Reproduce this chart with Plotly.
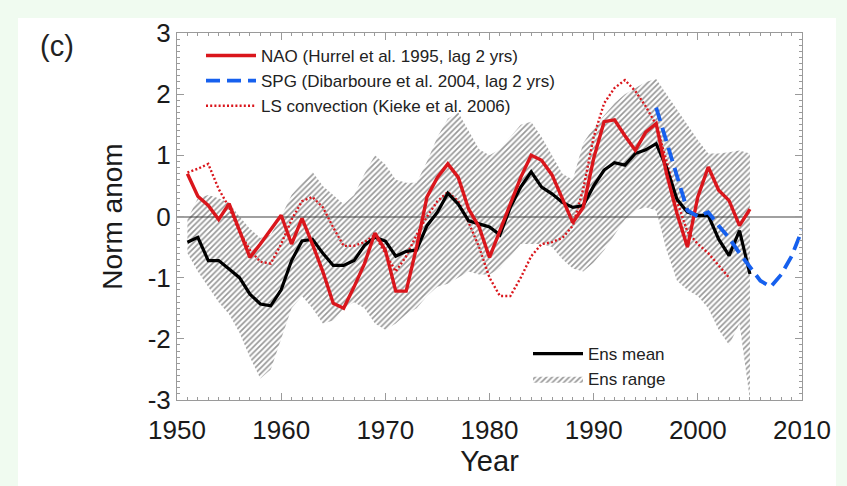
import plotly.graph_objects as go

# ---- data -------------------------------------------------------------
years = list(range(1951, 2006))

nao = [0.70, 0.33, 0.18, -0.05, 0.21, -0.25, -0.67, -0.45, -0.22, 0.02,
       -0.45, -0.03, -0.45, -0.90, -1.42, -1.50, -1.15, -0.77, -0.27, -0.55,
       -1.22, -1.22, -0.50, 0.32, 0.64, 0.86, 0.64, 0.12, -0.17, -0.67,
       -0.23, 0.21, 0.64, 1.00, 0.92, 0.68, 0.30, -0.10, 0.15, 0.95,
       1.55, 1.58, 1.32, 1.08, 1.38, 1.52, 0.70, 0.05, -0.50, 0.32,
       0.81, 0.43, 0.26, -0.15, 0.12]

ens_mean = [-0.42, -0.34, -0.72, -0.72, -0.86, -1.00, -1.27, -1.43, -1.46, -1.20,
            -0.72, -0.40, -0.37, -0.60, -0.80, -0.80, -0.72, -0.47, -0.34, -0.40,
            -0.65, -0.57, -0.55, -0.15, 0.07, 0.38, 0.20, -0.07, -0.12, -0.17,
            -0.30, 0.15, 0.48, 0.73, 0.48, 0.37, 0.23, 0.15, 0.18, 0.50,
            0.76, 0.88, 0.84, 1.03, 1.09, 1.19, 0.80, 0.28, 0.07, 0.02,
            0.02, -0.37, -0.64, -0.23, -0.94]

ens_upper = [-0.05, 0.30, 0.35, 0.30, 0.22, 0.00, -0.20, -0.35, -0.30, 0.00,
             0.35, 0.55, 0.73, 0.50, 0.35, 0.20, 0.35, 0.70, 1.00, 0.85,
             0.60, 0.55, 0.55, 0.90, 1.30, 1.60, 1.70, 1.40, 1.10, 1.00,
             1.10, 1.30, 1.50, 1.55, 1.30, 1.00, 0.70, 0.60, 1.20, 1.45,
             1.65, 1.85, 2.00, 2.10, 2.20, 2.25, 2.00, 1.77, 1.50, 1.25,
             1.03, 1.03, 1.05, 1.08, 1.03]

ens_lower = [-0.60, -0.90, -1.15, -1.40, -1.60, -1.90, -2.30, -2.65, -2.50, -2.00,
             -1.50, -1.30, -1.50, -1.75, -1.70, -1.50, -1.40, -1.50, -1.75, -1.85,
             -1.75, -1.60, -1.50, -1.30, -1.15, -1.10, -1.00, -0.90, -0.95, -0.95,
             -0.85, -0.65, -0.45, -0.45, -0.45, -0.50, -0.70, -0.85, -0.90, -0.75,
             -0.55, -0.30, -0.05, 0.10, 0.15, 0.10, -0.55, -1.05, -1.20, -1.30,
             -1.50, -1.85, -2.10, -1.75, -3.00]

ls_years = list(range(1951, 2004))
ls_conv = [0.72, 0.78, 0.86, 0.45, 0.15, -0.25, -0.55, -0.74, -0.77, -0.45,
           -0.05, 0.25, 0.32, 0.15, -0.18, -0.48, -0.48, -0.42, -0.30, -0.60,
           -0.90, -0.65, -0.30, 0.00, 0.25, 0.40, 0.25, -0.10, -0.50, -1.00,
           -1.30, -1.30, -1.00, -0.65, -0.45, -0.42, -0.35, -0.15, 0.45, 1.30,
           1.85, 2.10, 2.23, 2.05, 1.80, 1.50, 0.90, 0.25, -0.25, -0.45,
           -0.60, -0.80, -1.00]

spg_years = list(range(1996, 2011))
spg = [1.78, 1.22, 0.68, 0.10, 0.00, 0.07, -0.15, -0.35, -0.60, -0.82,
       -1.05, -1.15, -0.95, -0.65, -0.22]

x_ticks = [1950, 1960, 1970, 1980, 1990, 2000, 2010]
x_ticktext = ["1950", "1960", "1970", "1980", "1990", "2000", "2010"]
y_ticks = [-3, -2, -1, 0, 1, 2, 3]
y_ticktext = ["-3", "-2", "-1", "0", "1", "2", "3"]

# ---- styling ----------------------------------------------------------
FONT = "Liberation Sans"
RED = "rgb(218,22,28)"
BLUE = "rgb(22,96,238)"
FRAME = "#9a9a9a"

W, H = 847, 486
ML, MR, MT, MB = 177, 45, 33, 86
PW, PH = W - ML - MR, H - MT - MB


def px_to_paper_x(px):
    return (px - ML) / PW


def px_to_paper_y(py):
    return (H - MB - py) / PH


fig = go.Figure()

# ensemble range as a hatched polygon
fig.add_trace(go.Scatter(
    x=years + years[::-1],
    y=ens_upper + ens_lower[::-1],
    fill="toself",
    mode="lines",
    line=dict(width=0, color="rgba(0,0,0,0)"),
    fillcolor="rgba(255,255,255,0)",
    fillpattern=dict(shape="/", fgcolor="#303030", bgcolor="rgba(255,255,255,0)",
                     size=4, solidity=0.42),
    name="Ens range",
    legend="legend2",
    legendrank=2,
    hoverinfo="skip",
))

fig.add_trace(go.Scatter(
    x=ls_years, y=ls_conv, mode="lines",
    line=dict(color=RED, width=2.4, dash="2px,2.2px"),
    name="LS convection (Kieke et al. 2006)",
    legend="legend", legendrank=3,
))

fig.add_trace(go.Scatter(
    x=years, y=ens_mean, mode="lines",
    line=dict(color="black", width=3.2),
    name="Ens mean",
    legend="legend2", legendrank=1,
))

fig.add_trace(go.Scatter(
    x=years, y=nao, mode="lines",
    line=dict(color=RED, width=3.4),
    name="NAO (Hurrel et al. 1995, lag 2 yrs)",
    legend="legend", legendrank=1,
))

fig.add_trace(go.Scatter(
    x=spg_years, y=spg, mode="lines",
    line=dict(color=BLUE, width=3.8, dash="14px,7px"),
    name="SPG (Dibarboure et al. 2004, lag 2 yrs)",
    legend="legend", legendrank=2,
))

axis_common = dict(
    showgrid=False,
    showline=True, linecolor=FRAME, linewidth=1, mirror="allticks",
    ticks="inside", ticklen=7, tickwidth=1, tickcolor=FRAME,
    tickfont=dict(family=FONT, size=26, color="#1a1a1a"),
)

fig.update_xaxes(
    range=[1950, 2010], tickvals=x_ticks, ticktext=x_ticktext,
    ticklabelstandoff=7,
    minor=dict(ticks="inside", ticklen=3, tickcolor=FRAME, dtick=1, showgrid=False),
    title=dict(text="Year", font=dict(family=FONT, size=29, color="#1a1a1a"), standoff=2),
    zeroline=False,
    **axis_common,
)
fig.update_yaxes(
    range=[-3, 3], tickvals=y_ticks, ticktext=y_ticktext,
    minor=dict(ticks="inside", ticklen=3, tickcolor=FRAME, dtick=0.1, showgrid=False),
    title=dict(text="Norm anom", font=dict(family=FONT, size=28, color="#1a1a1a"), standoff=16),
    zeroline=True, zerolinecolor="#a0a0a0", zerolinewidth=1.5,
    **axis_common,
)

legend_font = dict(family=FONT, size=17, color="#222222")
fig.update_layout(
    width=W, height=H,
    margin=dict(l=ML, r=MR, t=MT, b=MB),
    paper_bgcolor="rgb(240,251,240)",
    plot_bgcolor="white",
    showlegend=True,
    legend=dict(x=px_to_paper_x(201), y=px_to_paper_y(38), xanchor="left", yanchor="top",
                bgcolor="rgba(0,0,0,0)", font=legend_font, itemwidth=50,
                traceorder="normal"),
    legend2=dict(x=px_to_paper_x(528), y=px_to_paper_y(336), xanchor="left", yanchor="top",
                 bgcolor="rgba(0,0,0,0)", font=legend_font, itemwidth=50,
                 traceorder="normal"),
    shapes=[dict(type="rect", xref="paper", yref="paper", layer="below",
                 x0=px_to_paper_x(18), x1=px_to_paper_x(836),
                 y0=px_to_paper_y(486), y1=px_to_paper_y(18),
                 fillcolor="white", line=dict(width=0))],
    annotations=[dict(text="(c)", xref="paper", yref="paper",
                      x=px_to_paper_x(57), y=px_to_paper_y(46),
                      xanchor="center", yanchor="middle", showarrow=False,
                      font=dict(family=FONT, size=29, color="#222222"))],
)

fig.write_html("out.html")
